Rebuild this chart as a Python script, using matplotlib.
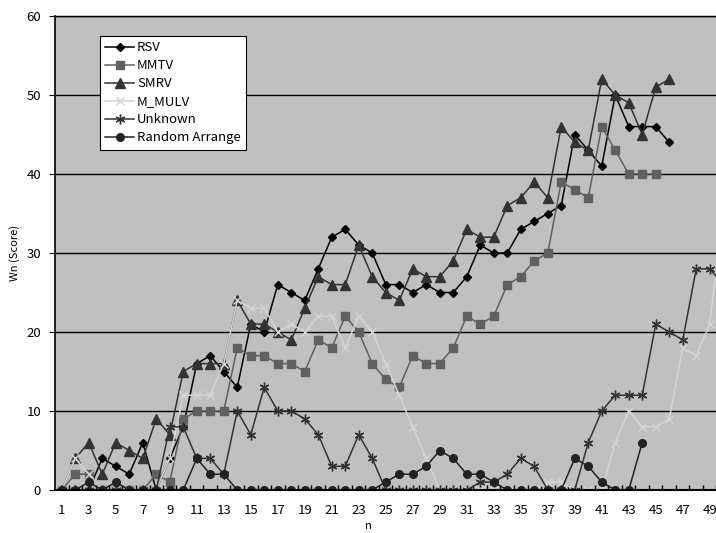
import matplotlib
matplotlib.use("Agg")
import matplotlib.pyplot as plt
import numpy as np

plt.rcParams['font.family'] = ['Noto Sans CJK JP', 'DejaVu Sans']

rsv = [0, 0, 0, 4, 3, 2, 6, 0, 4, 8,
       16, 17, 15, 13, 21, 20, 26, 25, 24, 28,
       32, 33, 31, 30, 26, 26, 25, 26, 25, 25,
       27, 31, 30, 30, 33, 34, 35, 36, 45, 43,
       41, 50, 46, 46, 46, 44]
mmtv = [0, 2, 2, 0, 0, 0, 0, 2, 1, 9,
        10, 10, 10, 18, 17, 17, 16, 16, 15, 19,
        18, 22, 20, 16, 14, 13, 17, 16, 16, 18,
        22, 21, 22, 26, 27, 29, 30, 39, 38, 37,
        46, 43, 40, 40, 40]
smrv = [0, 4, 6, 2, 6, 5, 4, 9, 7, 15,
        16, 16, 16, 24, 21, 21, 20, 19, 23, 27,
        26, 26, 31, 27, 25, 24, 28, 27, 27, 29,
        33, 32, 32, 36, 37, 39, 37, 46, 44, 43,
        52, 50, 49, 45, 51, 52]
m_mulv = [0, 4, 2, 0, 0, 0, 0, 0, 4, 12,
          12, 12, 16, 24, 23, 23, 20, 21, 20, 22,
          22, 18, 22, 20, 16, 12, 8, 4, 0, 0,
          0, 0, 0, 0, 0, 0, 1, 1, 0, 0,
          0, 6, 10, 8, 8, 9, 18, 17, 21, 36]
unknown = [0, 0, 0, 0, 0, 0, 0, 0, 8, 8,
           4, 4, 2, 10, 7, 13, 10, 10, 9, 7,
           3, 3, 7, 4, 0, 0, 0, 0, 0, 0,
           0, 1, 1, 2, 4, 3, 0, 0, 0, 6,
           10, 12, 12, 12, 21, 20, 19, 28, 28, 26]
random_arr = [0, 0, 1, 0, 1, 0, 0, 0, 0, 0,
              4, 2, 2, 0, 0, 0, 0, 0, 0, 0,
              0, 0, 0, 0, 1, 2, 2, 3, 5, 4,
              2, 2, 1, 0, 0, 0, 0, 0, 4, 3,
              1, 0, 0, 6]

labels = ["RSV", "MMTV", "SMRV", "M_MULV", "Unknown", "Random Arrange"]
series = [rsv, mmtv, smrv, m_mulv, unknown, random_arr]
colors = ["#000000", "#606060", "#333333", "#d4d4d4", "#333333", "#222222"]
markers = ["D", "s", "^", "x", (6, 2, 0), "o"]
msizes = [4.5, 5.5, 6.5, 5.5, 7, 5.5]

fig = plt.figure(figsize=(7.16, 5.33), dpi=100)
ax = fig.add_axes([55 / 716, 43 / 533, (716.5 - 55) / 716, 474 / 533])
ax.set_facecolor("#c0c0c0")

for vals, lab, c, m, ms in zip(series, labels, colors, markers, msizes):
    x = np.arange(1, len(vals) + 1)
    ax.plot(x, vals, color=c, marker=m, markersize=ms, lw=1.1,
            markeredgecolor=c, markerfacecolor=c, markeredgewidth=1.0,
            label=lab, clip_on=True)

ax.set_xlim(0.5, 49.5)
ax.set_ylim(0, 60)
ax.set_yticks(np.arange(0, 61, 10))
ax.set_xticks(np.arange(1, 50, 2))
ax.set_xticks(np.arange(1.5, 50, 1), minor=True)
ax.tick_params(axis='x', which='major', length=0, labelsize=9.5, pad=10)
ax.tick_params(axis='x', which='minor', direction='in', length=3.5, width=1)
ax.tick_params(axis='y', which='major', length=4, direction='out', labelsize=9.5, pad=6)
ax.yaxis.grid(True, color='black', lw=1.0)
ax.set_axisbelow(True)
for s in ['right', 'top']:
    ax.spines[s].set_visible(False)
ax.spines['left'].set_linewidth(1.2)
ax.spines['bottom'].set_linewidth(1.5)
ax.axhline(60, color='black', lw=1.0, clip_on=False)

ax.set_ylabel("Wn (Score)", fontsize=8)
ax.yaxis.set_label_coords(-0.053, 0.5)
ax.set_xlabel("n", fontsize=8)
ax.xaxis.set_label_coords(0.473, -0.065)

leg = ax.legend(loc='upper left', bbox_to_anchor=(0.068, 0.958), fontsize=9.5,
                frameon=True, fancybox=False, edgecolor='black', framealpha=1,
                handlelength=2.2, labelspacing=0.38, borderpad=0.4,
                handletextpad=0.2, borderaxespad=0)
leg.get_frame().set_linewidth(0.8)

fig.savefig("out.png", dpi=100)
